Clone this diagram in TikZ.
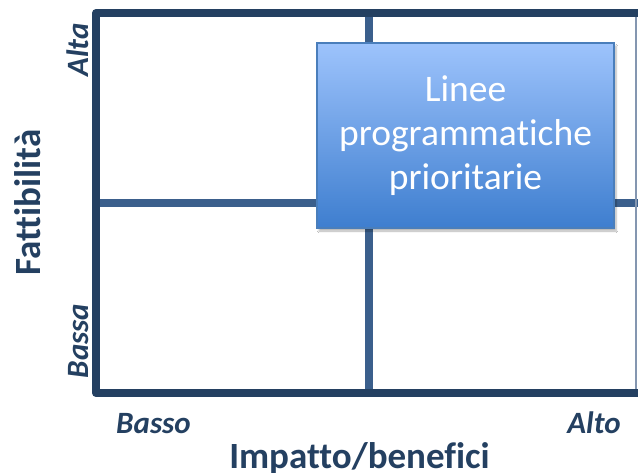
\documentclass[tikz,border=0pt]{standalone}
\usepackage{fontspec}
\setmainfont{Carlito}[Ligatures=NoCommon]
\usetikzlibrary{shadows.blur}
\definecolor{navy}{RGB}{36,64,97}
\definecolor{midline}{RGB}{59,95,140}
\definecolor{boxtop}{RGB}{157,195,252}
\definecolor{boxbot}{RGB}{62,126,207}
\definecolor{boxedge}{RGB}{74,126,187}
\definecolor{thinline}{RGB}{132,150,176}
\begin{document}
\begin{tikzpicture}[x=1pt,y=-1pt,
  frame/.style={draw=navy,line width=8pt,line join=round},
  divider/.style={draw=midline,line width=7.5pt},
  axislabel/.style={text=navy,font=\fontsize{37}{40}\selectfont\bfseries,inner sep=0pt,anchor=base},
  ticklabel/.style={text=navy,font=\fontsize{31}{34}\selectfont\bfseries\itshape,inner sep=0pt,anchor=base},
  prio/.style={draw=boxedge,line width=1.2pt,top color=boxtop,bottom color=boxbot,
    minimum width=297pt,minimum height=185pt,inner sep=0pt,text=white,
    align=center,font=\fontsize{37.5}{44}\selectfont,
    blur shadow={shadow xshift=2pt,shadow yshift=-3pt,shadow blur steps=6,shadow opacity=30}}
  ]
\useasboundingbox (0,0) rectangle (638,473);
\fill[white] (0,0) rectangle (638,473);
% dividers
\coordinate (vt) at (369,13);
\coordinate (vb) at (369,393);
\coordinate (hl) at (96,203);
\coordinate (hr) at (638,203);
\draw[divider] (vt) -- (vb);
\draw[divider] (hl) -- (hr);
% thin right edge
\coordinate (rt) at (636,13);
\coordinate (rb) at (636,393);
\draw[thinline,line width=1.5pt] (rt) -- (rb);
% frame
\coordinate (tr) at (638,13);
\coordinate (tl) at (96,13);
\coordinate (bl) at (96,393);
\coordinate (br) at (638,393);
\draw[frame] (tr) -- (tl) -- (bl) -- (br);
% box
\node[prio] (box) at (465.5,135.5) {Linee\\programmatiche\\prioritarie};
% labels
\node[ticklabel,rotate=90] (alta) at (88,50) {Alta};
\node[ticklabel,rotate=90] (bassa) at (88,341) {Bassa};
\node[ticklabel] (basso) at (153.5,434) {Basso};
\node[ticklabel] (alto) at (594,434) {Alto};
\node[axislabel,rotate=90] (fatt) at (40,202.5) {Fattibilità};
\node[axislabel] (imp) at (359.5,468) {Impatto/benefici};
\end{tikzpicture}
\end{document}
